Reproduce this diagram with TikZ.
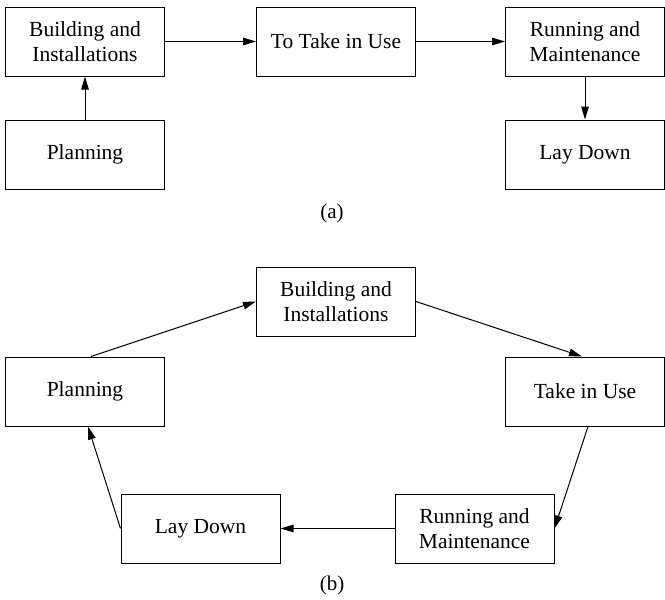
\documentclass[tikz,border=0pt]{standalone}
\usepackage{fontspec}
\setmainfont{Liberation Serif}
\usetikzlibrary{arrows.meta}
\begin{document}
\begin{tikzpicture}[x=1pt,y=-1pt,
  box/.style={draw, line width=1pt, minimum width=159pt, minimum height=69pt,
    inner sep=0pt, align=center, font=\fontsize{21.5}{25}\selectfont},
  flow/.style={line width=1pt, -{Triangle[length=13pt,width=7.5pt]}},
  caption/.style={font=\fontsize{21}{24}\selectfont}]
  \useasboundingbox (0,0) rectangle (665,600);

  % (a) linear life cycle
  \node[box] (bA) at (85,41.5) {Building and\\Installations};
  \node[box] (pA) at (85,154.5) {Planning};
  \node[box] (tA) at (336,41.5) {To Take in Use};
  \node[box] (rA) at (585,41.5) {Running and\\Maintenance};
  \node[box] (lA) at (585,154.5) {Lay Down};
  \node[caption] (capA) at (332,213) {(a)};

  \draw[flow] (pA) -- (bA);
  \draw[flow] (bA) -- (tA);
  \draw[flow] (tA) -- (rA);
  \draw[flow] (rA) -- (lA);

  % (b) circular life cycle
  \node[box] (bB) at (336,301.5) {Building and\\Installations};
  \node[box] (pB) at (85,391.5) {Planning};
  \node[box] (tB) at (585,391.5) {Take in Use};
  \node[box] (rB) at (474.5,528.5) {Running and\\Maintenance};
  \node[box] (lB) at (200.5,528.5) {Lay Down};
  \node[caption] (capB) at (332,585) {(b)};

  \draw[flow] ([xshift=6pt]pB.north) -- (bB.west);
  \draw[flow] (bB.east) -- ([xshift=-3pt]tB.north);
  \draw[flow] ([xshift=3pt]tB.south) -- (rB.east);
  \draw[flow] (rB.west) -- (lB.east);
  \draw[flow] (lB.west) -- ([xshift=3pt]pB.south);
\end{tikzpicture}
\end{document}
